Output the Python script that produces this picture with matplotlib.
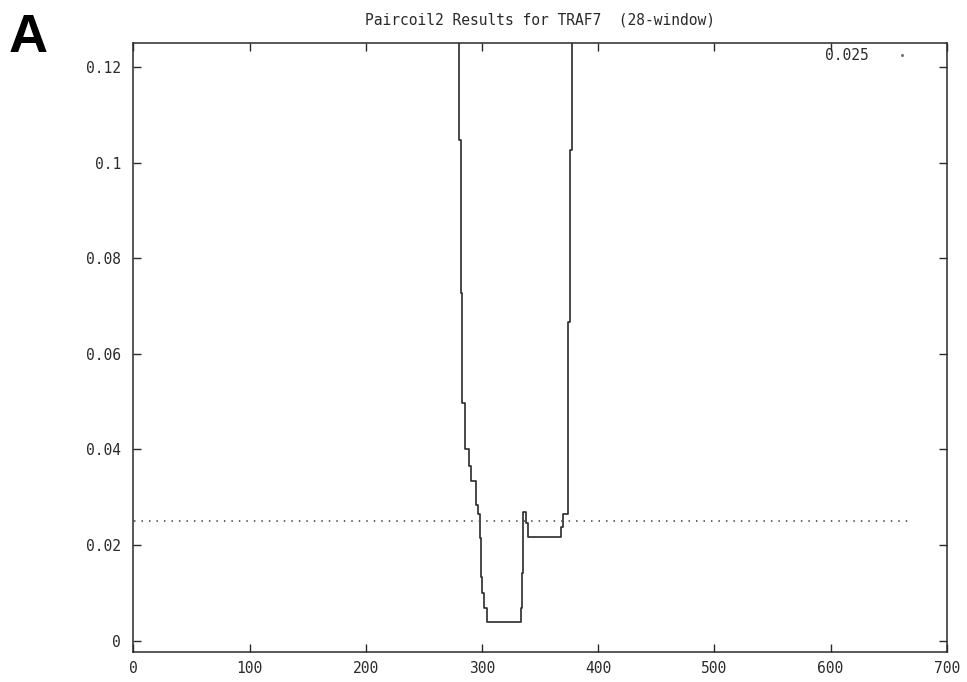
import numpy as np
import matplotlib
matplotlib.use('Agg')
import matplotlib.pyplot as plt
from matplotlib.lines import Line2D

# Paircoil2 p-score for TRAF7 (step breakpoints, residue / score)
# values at 0.14 are off the top of the chart
residue = [1, 280.6, 282.0, 283.3, 285.5, 288.9, 290.6, 294.9, 296.9, 298.4,
           299.2, 300.3, 302.1, 304.1, 333.6, 334.8, 335.6, 338.0, 339.9,
           368.5, 370.1, 374.5, 375.8, 377.3, 670]
score = [0.14, 0.1047, 0.0727, 0.0498, 0.0402, 0.0365, 0.0335, 0.0284, 0.0266,
         0.0214, 0.0134, 0.0099, 0.0068, 0.0039, 0.0068, 0.0142, 0.0270, 0.0246,
         0.0216, 0.0238, 0.0265, 0.0667, 0.1026, 0.14, 0.14]

threshold = 0.025
seq_len = 670
xticks = [0, 100, 200, 300, 400, 500, 600, 700]
yticks = [0, 0.02, 0.04, 0.06, 0.08, 0.1, 0.12]
ytick_labels = ['0', '0.02', '0.04', '0.06', '0.08', '0.1', '0.12']

mono = 'DejaVu Sans Mono'
ink = '#2a2a2a'

fig = plt.figure(figsize=(9.67, 6.82), dpi=100)
ax = fig.add_axes([133.3 / 967, 1 - 651.7 / 682, (946.7 - 133.3) / 967, (651.7 - 42.7) / 682])

ax.step(residue, score, where='post', color=ink, lw=1.2)
ax.plot([1, seq_len], [threshold, threshold], color='#555555', lw=1.3,
        linestyle=(0, (0.8, 3.35)))

ax.set_xlim(0, 700)
ax.set_ylim(-0.0023, 0.1251)
ax.set_xticks(xticks)
ax.set_xticklabels([str(t) for t in xticks])
ax.set_yticks(yticks)
ax.set_yticklabels(ytick_labels)

ax.tick_params(direction='in', length=5.5, width=1.0, color=ink,
               top=True, right=True, labelsize=10.5, labelcolor=ink)
ax.tick_params(axis='y', pad=9)
ax.tick_params(axis='x', pad=7)
for lab in ax.get_xticklabels() + ax.get_yticklabels():
    lab.set_family(mono)
for sp in ax.spines.values():
    sp.set_linewidth(1.1)
    sp.set_color(ink)

ax.set_title('Paircoil2 Results for TRAF7  (28-window)', family=mono,
             fontsize=10.5, color=ink, pad=13)

# gnuplot-style key: label then a single dot of the dotted sample
key = Line2D([], [], linestyle='none', marker='.', markersize=2.5, color='#777777')
ax.legend([key], ['0.025'], loc='upper right', markerfirst=False, frameon=False,
          prop={'family': mono, 'size': 10.5}, handlelength=3.0, handletextpad=0.8,
          borderpad=0, borderaxespad=0, labelcolor=ink,
          bbox_to_anchor=(923.7 / 967, 1 - 48 / 682), bbox_transform=fig.transFigure)

fig.text(8.3 / 967, 1 - 51.7 / 682, 'A', family=['Liberation Sans', 'DejaVu Sans'],
         fontweight='bold', fontsize=39, ha='left', va='baseline', color='black')

fig.savefig('out.png', dpi=100)
